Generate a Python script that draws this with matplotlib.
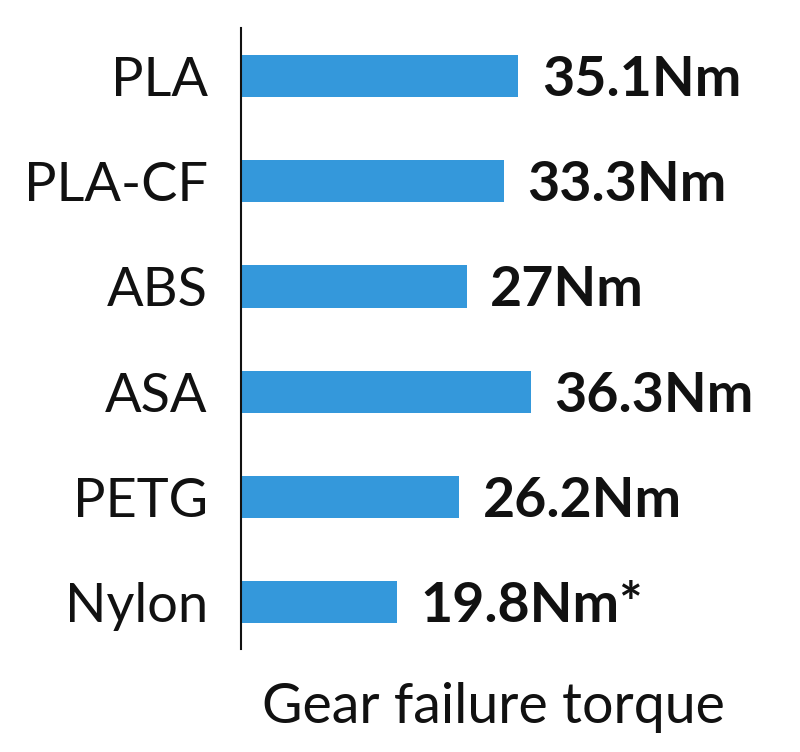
import matplotlib
matplotlib.use("Agg")
import matplotlib.pyplot as plt

categories = ["PLA", "PLA-CF", "ABS", "ASA", "PETG", "Nylon"]
# bar lengths as drawn in the picture (Nm scale)
bar_lengths = [35.0, 33.2, 28.5, 36.6, 27.5, 19.7]
value_labels = ["35.1Nm", "33.3Nm", "27Nm", "36.3Nm", "26.2Nm", "19.8Nm*"]
xlabel = "Gear failure torque"

plt.rcParams['font.family'] = ['Lato', 'DejaVu Sans']

fig = plt.figure(figsize=(8, 7.52), dpi=100)
ax = fig.add_axes([241/800, 1-649/752, (800-241)/800, (649-28)/752])

y = list(range(len(categories)))
ax.barh(y, bar_lengths, height=0.4, color='#3498db', left=0)
ax.set_xlim(0, 559/7.92)
ax.set_ylim(5.45, -0.46)

for yi, v, lab in zip(y, bar_lengths, value_labels):
    ax.annotate(lab, (v, yi), xytext=(17, -14.4), textcoords='offset points',
                va='baseline', ha='left', fontsize=40, fontweight='bold', color='#111111')

ax.set_yticks(y)
ax.set_yticklabels(categories, fontsize=39, color='#111111')
ax.tick_params(axis='y', length=0, pad=24)
ax.set_xticks([])
for s in ['top', 'right', 'bottom']:
    ax.spines[s].set_visible(False)
ax.spines['left'].set_linewidth(1.5)
ax.spines['left'].set_color('#111111')

fig.text(493/800, 1-723/752, xlabel, ha='center', va='baseline', fontsize=40, color='#111111')

fig.savefig("out.png", dpi=100)
